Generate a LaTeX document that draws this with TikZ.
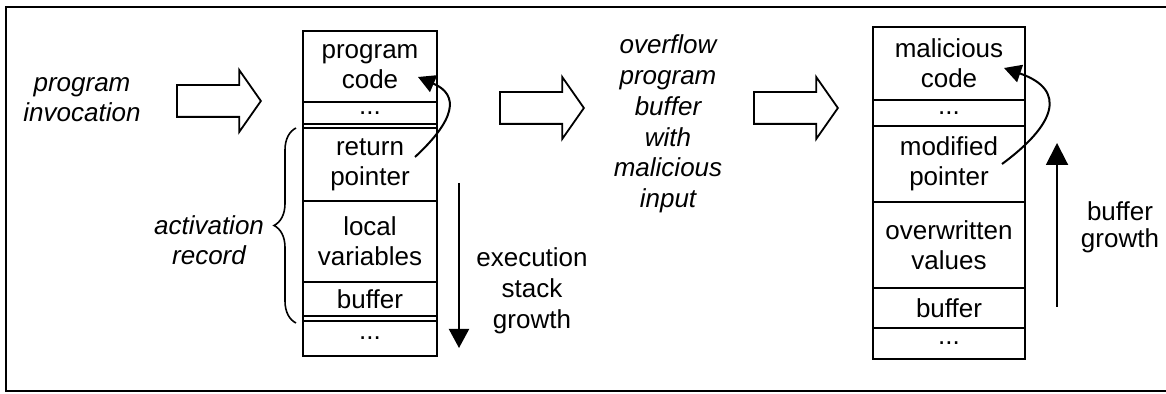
\documentclass[tikz,border=0pt]{standalone}
\usepackage{fontspec}
\setmainfont{Liberation Sans}
\usetikzlibrary{positioning,shapes.arrows,arrows.meta,decorations.pathreplacing}

\begin{document}
\begin{tikzpicture}[x=0.5pt,y=-0.5pt,node distance=0pt,
    font=\fontsize{13}{15}\selectfont,
    cell/.style={draw,line width=1pt,inner sep=0pt,outer sep=0pt,align=center},
    cellA/.style={cell,minimum width=67pt},
    cellB/.style={cell,minimum width=76pt},
    note/.style={align=center,font=\fontsize{13}{15}\selectfont\itshape},
    plain/.style={align=center},
    fatarrow/.style={draw,line width=0.9pt,single arrow,minimum height=42pt,minimum width=30pt,
      inner xsep=0pt,inner ysep=7.5pt,single arrow head extend=7.5pt,single arrow tip angle=110,anchor=tail},
    bent/.style={line width=1pt,-{Triangle[length=8.5pt,width=9pt]}}]
  \useasboundingbox (0,0) rectangle (1166,394);
  \draw[line width=0.8pt] (1166,7) -- (6,7) -- (6,391) -- (1166,391);

  % stack before the attack
  \node[cellA,minimum height=35.5pt,anchor=north] (code1) at (370,31) {program\\code};
  \node[cellA,minimum height=11pt] (dots1) [below=of code1] {...};
  \node[cellA,minimum height=36.5pt] (ret1) [below=2pt of dots1] {return\\pointer};
  \node[cellA,minimum height=40.5pt] (loc1) [below=of ret1] {local\\variables};
  \node[cellA,minimum height=17pt] (buf1) [below=of loc1] {buffer};
  \node[cellA,minimum height=17.5pt] (dots2) [below=2.5pt of buf1] {...};
  \draw[line width=1pt] (code1.north west) rectangle (dots2.south east);

  % stack after the attack
  \node[cellB,minimum height=36.5pt,anchor=north] (code2) at (949,27) {malicious\\code};
  \node[cellB,minimum height=13pt] (dots3) [below=of code2] {...};
  \node[cellB,minimum height=38pt] (mod2) [below=of dots3] {modified\\pointer};
  \node[cellB,minimum height=43pt] (over2) [below=of mod2] {overwritten\\values};
  \node[cellB,minimum height=20pt] (buf2) [below=of over2] {buffer};
  \node[cellB,minimum height=15.5pt] (dots4) [below=of buf2] {...};

  % labels and hollow arrows
  \node[note] (invoke) at (82,100) {program\\invocation};
  \node[fatarrow] (invokearrow) at (176,101) {};
  \node[note,anchor=east] (actrec) at (271,240) {activation\\record};
  \node[note,font=\fontsize{13}{15.4}\selectfont\itshape] (overflow) at (668,124)
    {overflow\\program\\buffer\\with\\malicious\\input};
  \node[fatarrow] (overflowarrow) at (499,108) {};
  \node[fatarrow] (attackarrow) at (753,108) {};
  \node[plain,font=\fontsize{13}{15.5}\selectfont] (execgrow) at (532,291) {execution\\stack\\growth};
  \node[plain,font=\fontsize{13}{13.5}\selectfont] (bufgrow) at (1120,227) {buffer\\growth};

  \coordinate (exectop) at (459,183);
  \coordinate (execbot) at (459,348);
  \coordinate (bufbot) at (1057,307);
  \coordinate (buftop) at (1057,143);
  \coordinate (retfrom) at (415,157);
  \coordinate (codeto) at (418,77);
  \coordinate (modfrom) at (1002,164);
  \coordinate (malto) at (1004,68);

  \draw[decorate,decoration={brace,amplitude=11pt},line width=0.8pt]
    ([xshift=-3.5pt,yshift=-1pt]dots2.north west) -- ([xshift=-3.5pt]ret1.north west);
  \draw[bent] (retfrom) .. controls (455,120) and (460,95) .. (codeto);
  \draw[bent] (modfrom) .. controls (1055,125) and (1068,90) .. (malto);
  \draw[line width=1pt,-{Triangle[length=9.5pt,width=10pt]}] (exectop) -- (execbot);
  \draw[line width=1pt,-{Triangle[length=11pt,width=11pt]}] (bufbot) -- (buftop);
\end{tikzpicture}
\end{document}
